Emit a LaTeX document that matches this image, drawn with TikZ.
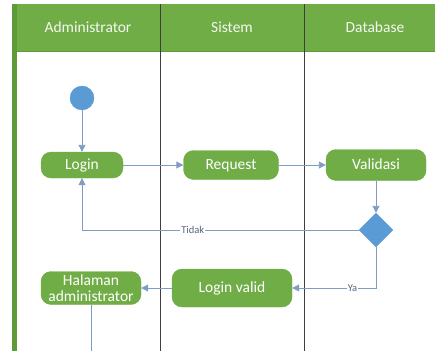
\documentclass[tikz,border=0pt]{standalone}
\usepackage{fontspec}
\setmainfont{Carlito}
\usetikzlibrary{arrows.meta,shapes}

\definecolor{lanegreen}{HTML}{70AD47}
\definecolor{bargreen}{HTML}{5E9A38}
\definecolor{nodeblue}{HTML}{5B9BD5}
\definecolor{flowblue}{HTML}{7F9DC4}
\definecolor{lanegray}{HTML}{404040}
\definecolor{guardgray}{HTML}{56657E}

\begin{document}
\begin{tikzpicture}[x=1pt,y=-1pt]
\useasboundingbox (0,0) rectangle (439,351);

% swimlanes
\fill[lanegreen] (16,4) rectangle (435,51);
\draw[bargreen,line width=1pt] (16,51) -- (435,51);
\fill[bargreen] (12,4) rectangle (17,351);
\draw[lanegray,line width=0.8pt] (160,4) -- (160,351);
\draw[lanegray,line width=0.8pt] (304,4) -- (304,351);

\tikzstyle{lanehead}=[text=white!92!lanegreen,font=\fontsize{15.5}{18}\selectfont]
\node[lanehead] (hadmin) at (88,27) {Administrator};
\node[lanehead] (hsistem) at (232,27) {Sistem};
\node[lanehead] (hdb) at (375,27) {Database};

\tikzstyle{action}=[draw=lanegreen,fill=lanegreen,rounded corners=10pt,text=white,font=\fontsize{15.5}{17}\selectfont,inner sep=1pt,align=center]
\tikzstyle{oneline}=[text height=11pt,text depth=3pt]
\tikzstyle{flow}=[draw=flowblue,line width=0.9pt,-{Triangle[length=7pt,width=7pt]}]
\tikzstyle{guard}=[fill=white,text=guardgray,inner sep=1pt,font=\fontsize{10.5}{12}\selectfont]

\node[draw=nodeblue,fill=nodeblue,circle,minimum size=24pt,inner sep=0pt] (start) at (82,98) {};
\node[action,oneline,minimum width=82pt,minimum height=26pt] (login) at (82,165) {Login};
\node[action,oneline,minimum width=95pt,minimum height=29pt] (request) at (231,165) {Request};
\node[action,oneline,minimum width=100pt,minimum height=31pt] (validasi) at (376,165) {Validasi};
\node[draw=nodeblue,fill=nodeblue,diamond,minimum width=34pt,minimum height=34pt,inner sep=0pt] (cek) at (376,230) {};
\node[action,oneline,minimum width=120pt,minimum height=38pt] (valid) at (232,288) {Login valid};
\node[action,minimum width=100pt,minimum height=33pt] (halaman) at (91,288) {Halaman\\[-1pt]administrator};
\coordinate (keluar) at (91,351);

\draw[flow] (start) -- (login);
\draw[flow] (login) -- (request);
\draw[flow] (request) -- (validasi);
\draw[flow] (validasi) -- (cek);
\draw[flow] (cek) -| node[guard,pos=0.3] {Tidak} (login);
\draw[flow] (cek) |- node[guard,pos=0.64] {Ya} (valid);
\draw[flow] (valid) -- (halaman);
\draw[draw=flowblue,line width=0.9pt] (halaman) -- (keluar);
\end{tikzpicture}
\end{document}
